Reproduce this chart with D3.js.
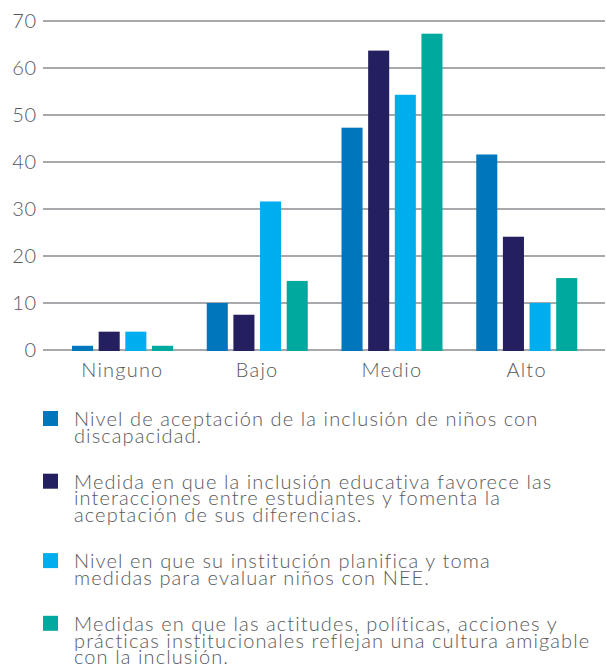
<!DOCTYPE html>
<html>
<head>
<meta charset="utf-8">
<script src="https://cdn.jsdelivr.net/npm/d3@7"></script>
<style>
  body { margin: 0; background: #fff; }
  text { font-family: Lato, "Open Sans", sans-serif; font-weight: 300; fill: #58595b; }
</style>
</head>
<body>
<div id="chart"></div>
<script>
const categories = ["Ninguno", "Bajo", "Medio", "Alto"];
const seriesNames = [
    ["Nivel de aceptación de la inclusión de niños con", "discapacidad."],
    ["Medida en que la inclusión educativa favorece las", "interacciones entre estudiantes y fomenta la", "aceptación de sus diferencias."],
    ["Nivel en que su institución planifica y toma", "medidas para evaluar niños con NEE."],
    ["Medidas en que las actitudes, políticas, acciones y", "prácticas institucionales reflejan una cultura amigable", "con la inclusión."]
];
const aceptacion = [0.9, 10, 47.3, 41.6];
const interacciones = [3.9, 7.5, 63.7, 24.1];
const planifica = [3.9, 31.6, 54.3, 10];
const cultura = [0.9, 14.7, 67.3, 15.3];
const yTicks = [0, 10, 20, 30, 40, 50, 60, 70];
const colors = ["#0076bc", "#241f5e", "#00aeef", "#00a99d"];

const series = [aceptacion, interacciones, planifica, cultura];

const width = 606, height = 670;

const svg = d3.select("#chart")
    .append("svg")
    .attr("width", width)
    .attr("height", height);

const y = d3.scaleLinear().domain([0, 70]).range([350, 21]);

const x0 = d3.scaleBand()
    .domain(categories)
    .range([55, 594]);

const x1 = d3.scaleBand()
    .domain(d3.range(series.length))
    .range([17, 118])
    .paddingInner(0.21)
    .paddingOuter(0);

// gridlines
svg.append("g")
    .selectAll("line")
    .data(yTicks)
    .enter()
    .append("line")
    .attr("x1", 43)
    .attr("x2", 605)
    .attr("y1", d => y(d))
    .attr("y2", d => y(d))
    .attr("stroke", "#a7a9ac")
    .attr("stroke-width", 2);

svg.append("g")
    .selectAll("text")
    .data(yTicks)
    .enter()
    .append("text")
    .attr("x", 37)
    .attr("y", d => y(d))
    .attr("dy", "0.36em")
    .attr("text-anchor", "end")
    .style("font-size", "20px")
    .style("letter-spacing", "0.8px")
    .text(d => d);

// bars
const groups = svg.append("g")
    .selectAll("g")
    .data(categories)
    .enter()
    .append("g")
    .attr("transform", d => `translate(${x0(d)},0)`);

groups.selectAll("rect")
    .data((d, i) => series.map((s, j) => ({ j: j, v: s[i] })))
    .enter()
    .append("rect")
    .attr("x", d => x1(d.j))
    .attr("width", x1.bandwidth())
    .attr("y", d => y(d.v))
    .attr("height", d => y(0) - y(d.v) + 1)
    .attr("fill", d => colors[d.j]);

// category labels
svg.append("g")
    .selectAll("text")
    .data(categories)
    .enter()
    .append("text")
    .attr("x", d => x0(d) + x0.bandwidth() / 2)
    .attr("y", 377)
    .attr("text-anchor", "middle")
    .style("font-size", "20px")
    .style("letter-spacing", "1.2px")
    .text(d => d);

// legend
const lineH = 16.7, itemGap = 29.3;
let base = 426;
seriesNames.forEach((lines, i) => {
    const item = svg.append("g");
    item.append("rect")
        .attr("x", 43)
        .attr("y", base - 15)
        .attr("width", 15)
        .attr("height", 15)
        .attr("fill", colors[i]);
    item.append("text")
        .attr("x", 74)
        .attr("y", base)
        .style("font-size", "20px")
        .style("letter-spacing", "1.1px")
        .selectAll("tspan")
        .data(lines)
        .enter()
        .append("tspan")
        .attr("x", 74)
        .attr("y", (d, k) => base + k * lineH)
        .text(d => d);
    base += lines.length * lineH + itemGap;
});
</script>
</body>
</html>
